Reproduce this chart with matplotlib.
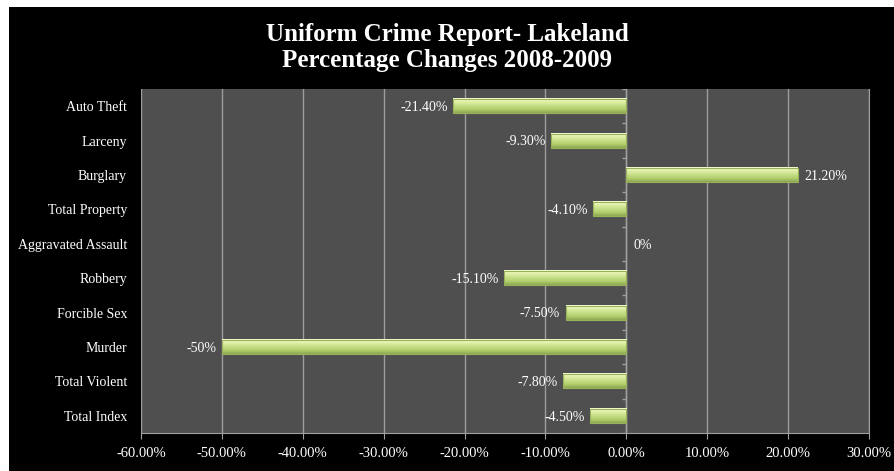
import numpy as np
import matplotlib.pyplot as plt
from matplotlib.patches import Rectangle
from matplotlib.colors import LinearSegmentedColormap

# data (top to bottom)
categories = ['Auto Theft', 'Larceny', 'Burglary', 'Total Property', 'Aggravated Assault',
              'Robbery', 'Forcible Sex', 'Murder', 'Total Violent', 'Total Index']
changes = [-21.4, -9.3, 21.2, -4.1, 0.0, -15.1, -7.5, -50.0, -7.8, -4.5]
value_labels = ['-21.40%', '-9.30%', '21.20%', '-4.10%', '0%', '-15.10%', '-7.50%', '-50%', '-7.80%', '-4.50%']
xticks = [-60, -50, -40, -30, -20, -10, 0, 10, 20, 30]

plt.rcParams['font.family'] = ['Liberation Serif', 'DejaVu Serif']

fig = plt.figure(figsize=(8.95, 4.71), dpi=100, facecolor='white')
# black chart area with a thin white margin on top/left
fig.patches.append(Rectangle((9/895, 0), 1, 1 - 7/471, transform=fig.transFigure,
                             facecolor='black', edgecolor='none', zorder=-10))

ax = fig.add_axes([141/895, 1 - 433/471, (869-141)/895, (433-89)/471])
ax.set_facecolor('#4f4f4f')

n = len(categories)
ypos = np.arange(n)[::-1]
h = 0.41

grad = LinearSegmentedColormap.from_list('g', ['#fbfcd6', '#e0f0a8', '#c6df86', '#b2cf6e', '#8ea652'])
gimg = np.linspace(0, 1, 64).reshape(-1, 1)

for y, v in zip(ypos, changes):
    if v == 0:
        continue
    x0, x1 = min(0, v), max(0, v)
    ax.imshow(gimg, cmap=grad, aspect='auto', extent=(x0, x1, y - h/2, y + h/2),
              origin='upper', zorder=3, interpolation='bilinear')
    ax.add_patch(Rectangle((x0, y - h/2), x1 - x0, h, facecolor='none',
                           edgecolor='#98b25a', lw=0.8, zorder=4))

for y, v, lab in zip(ypos, changes, value_labels):
    if v < 0:
        ax.annotate(lab, (v, y), xytext=(-4, -1), textcoords='offset points',
                    ha='right', va='center', color='white', fontsize=10, zorder=5)
    else:
        ax.annotate(lab, (v, y), xytext=(5, -1), textcoords='offset points',
                    ha='left', va='center', color='white', fontsize=10, zorder=5)

ax.set_xlim(-60, 30)
ax.set_ylim(-0.5, n - 0.5)
ax.set_xticks(xticks)
ax.set_xticklabels(['%.2f%%' % t for t in xticks], color='white', fontsize=10.5)
ax.set_yticks(ypos)
ax.set_yticklabels(categories, color='white', fontsize=10)
ax.tick_params(axis='y', length=0, pad=10)
ax.tick_params(axis='x', length=4, color='#a0a0a0', pad=6, direction='out')
ax.grid(axis='x', color='#9c9c9c', lw=1, zorder=1)
ax.set_axisbelow(True)

# category axis at zero with small ticks between categories
ax.axvline(0, color='#a0a0a0', lw=1, zorder=2)
ax.hlines(np.arange(n + 1) - 0.5, -0.5, 0, color='#a0a0a0', lw=1, zorder=2)

for s in ['top', 'left']:
    ax.spines[s].set_visible(False)
ax.spines['bottom'].set_color('#a0a0a0')
ax.spines['right'].set_color('#a0a0a0')

fig.text(0.5, 1 - 34/471, 'Uniform Crime Report- Lakeland', ha='center', va='center',
         color='white', fontsize=18, fontweight='bold')
fig.text(0.5, 1 - 61/471, 'Percentage Changes 2008-2009', ha='center', va='center',
         color='white', fontsize=18, fontweight='bold')

fig.savefig('out.png', dpi=100, facecolor='white')
